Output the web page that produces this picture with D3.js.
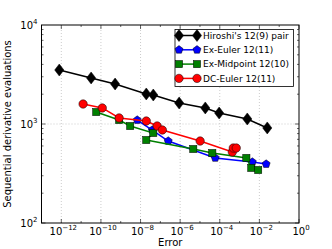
<!DOCTYPE html>
<html lang="en">
<head>
<meta charset="utf-8">
<title>evaluations vs error</title>
<script src="https://d3js.org/d3.v7.min.js"></script>
<style>
body { margin: 0; background: #fff; }
svg { font-family: "DejaVu Sans", sans-serif; }
</style>
</head>
<body>
<svg id="chart" width="332" height="249"></svg>
<script>
// values (error, evaluations)
let hiroshiErr = [7.9e-13, 3.2e-11, 5.2e-10, 1.95e-8, 4.4e-8, 8.9e-7, 1.86e-5, 9.3e-5, 2.45e-3, 2.5e-2];
let hiroshiEval = [3510, 2917, 2535, 2010, 1963, 1630, 1452, 1291, 1124, 912];

let exEulerErr = [6.8e-9, 3.9e-8, 2.5e-7, 5.9e-5, 4.4e-3, 2.2e-2];
let exEulerEval = [1097, 869, 673, 454, 413, 394];

let exMidErr = [5.8e-11, 8.3e-10, 3.0e-9, 4.4e-8, 1.95e-8, 4.6e-6, 4.2e-5, 2.2e-3, 3.9e-3, 8.7e-3];
let exMidEval = [1321, 1097, 954, 811, 689, 559, 509, 454, 360, 343];

let dcErr = [1.26e-11, 1.17e-10, 8.3e-10, 1.95e-8, 6.9e-8, 1.26e-7, 1.02e-5, 4.3e-4, 4.8e-4, 6.8e-4];
let dcEval = [1592, 1452, 1151, 1072, 955, 870, 673, 521, 572, 572];

let xTickExp = [-12, -10, -8, -6, -4, -2, 0];
let yTickExp = [2, 3, 4];

let w = 332, h = 249;
let m = {left: 41.5, right: 33, top: 25, bottom: 26};

let svg = d3.select('#chart');

let x = d3.scaleLog().domain([1e-13, 1]).range([m.left, w - m.right]);
let y = d3.scaleLog().domain([100, 10000]).range([h - m.bottom, m.top]);

let x0 = m.left, x1 = w - m.right, y0 = h - m.bottom, y1 = m.top;

// grid
let grid = svg.append('g');
xTickExp.slice(0, -1).forEach(e => {
    grid.append('line')
        .attr('x1', x(Math.pow(10, e))).attr('x2', x(Math.pow(10, e)))
        .attr('y1', y0).attr('y2', y1)
        .attr('stroke', '#aaa').attr('stroke-width', 0.6).attr('stroke-dasharray', '1,2');
});
grid.append('line')
    .attr('x1', x0).attr('x2', x1)
    .attr('y1', y(1000)).attr('y2', y(1000))
    .attr('stroke', '#aaa').attr('stroke-width', 0.6).attr('stroke-dasharray', '1,2');

// ticks
let ticks = svg.append('g').attr('stroke', '#000').attr('stroke-width', 0.6);
for (let e = -13; e <= 0; e++) {
    let len = (e % 2 === 0) ? 4 : 2;
    let px = x(Math.pow(10, e));
    ticks.append('line').attr('x1', px).attr('x2', px).attr('y1', y0).attr('y2', y0 - len);
    ticks.append('line').attr('x1', px).attr('x2', px).attr('y1', y1).attr('y2', y1 + len);
}
for (let e = 2; e <= 3; e++) {
    for (let k = 1; k <= 9; k++) {
        let v = k * Math.pow(10, e);
        let len = k === 1 ? 4 : 2;
        let py = y(v);
        ticks.append('line').attr('x1', x0).attr('x2', x0 + len).attr('y1', py).attr('y2', py);
        ticks.append('line').attr('x1', x1).attr('x2', x1 - len).attr('y1', py).attr('y2', py);
    }
}

// series
let series = [
    {name: "Hiroshi's 12(9) pair", err: hiroshiErr, ev: hiroshiEval, color: '#000000', shape: 'diamond'},
    {name: 'Ex-Euler 12(11)', err: exEulerErr, ev: exEulerEval, color: '#0000ff', shape: 'pentagon'},
    {name: 'Ex-Midpoint 12(10)', err: exMidErr, ev: exMidEval, color: '#008000', shape: 'square'},
    {name: 'DC-Euler 12(11)', err: dcErr, ev: dcEval, color: '#ff0000', shape: 'circle'}
];

function marker(g, shape, color, cx, cy) {
    let s;
    if (shape === 'diamond') {
        s = g.append('path').attr('d', 'M0,-6L4.6,0L0,6L-4.6,0Z');
    } else if (shape === 'square') {
        s = g.append('rect').attr('x', -3.6).attr('y', -3.6).attr('width', 7.2).attr('height', 7.2);
    } else if (shape === 'circle') {
        s = g.append('circle').attr('r', 4.2);
    } else {
        let pts = d3.range(5).map(i => {
            let a = -Math.PI / 2 + i * 2 * Math.PI / 5;
            return [4.2 * Math.cos(a), 4.2 * Math.sin(a)];
        });
        s = g.append('path').attr('d', 'M' + pts.join('L') + 'Z');
    }
    s.attr('transform', 'translate(' + cx + ',' + cy + ')')
        .attr('fill', color).attr('stroke', '#000').attr('stroke-width', 0.5);
}

let plot = svg.append('g');
let line = d3.line().x(d => x(d[0])).y(d => y(d[1]));
series.forEach(s => {
    let pts = s.err.map((e, i) => [e, s.ev[i]]);
    let g = plot.append('g');
    g.append('path').attr('d', line(pts))
        .attr('fill', 'none').attr('stroke', s.color).attr('stroke-width', 1.5);
    pts.forEach(p => marker(g, s.shape, s.color, x(p[0]), y(p[1])));
});

// frame
svg.append('rect').attr('x', x0).attr('y', y1).attr('width', x1 - x0).attr('height', y0 - y1)
    .attr('fill', 'none').attr('stroke', '#000').attr('stroke-width', 1);

// tick labels
function powLabel(g, px, py, exp, anchor) {
    let t = g.append('text').attr('x', px).attr('y', py).attr('text-anchor', anchor)
        .attr('font-size', 10).attr('fill', '#000');
    t.append('tspan').text('10');
    t.append('tspan').attr('dy', -5).attr('font-size', 7).text(String(exp).replace('-', '\u2212'));
}
let labels = svg.append('g');
xTickExp.forEach(e => powLabel(labels, x(Math.pow(10, e)) + 2, 235, e, 'middle'));
yTickExp.forEach(e => powLabel(labels, x0 - 4, y(Math.pow(10, e)) + 4, e, 'end'));

svg.append('text').attr('x', (x0 + x1) / 2).attr('y', 246).attr('text-anchor', 'middle')
    .attr('font-size', 10).text('Error');
svg.append('text').attr('transform', 'translate(11,' + ((y0 + y1) / 2) + ') rotate(-90)')
    .attr('text-anchor', 'middle').attr('font-size', 10).text('Sequential derivative evaluations');

// legend
let lg = svg.append('g');
let lx = 175, ly = 29.5;
lg.append('rect').attr('x', lx).attr('y', ly).attr('width', 118.5).attr('height', 57)
    .attr('fill', '#fff').attr('stroke', '#000').attr('stroke-width', 0.8);
series.forEach((s, i) => {
    let yy = ly + 6 + i * 14.3;
    lg.append('line').attr('x1', lx + 4).attr('x2', lx + 22).attr('y1', yy).attr('y2', yy)
        .attr('stroke', s.color).attr('stroke-width', 1.5);
    marker(lg, s.shape, s.color, lx + 4, yy);
    marker(lg, s.shape, s.color, lx + 22, yy);
    lg.append('text').attr('x', lx + 28).attr('y', yy + 3.2).attr('font-size', 9).text(s.name);
});
</script>
</body>
</html>
